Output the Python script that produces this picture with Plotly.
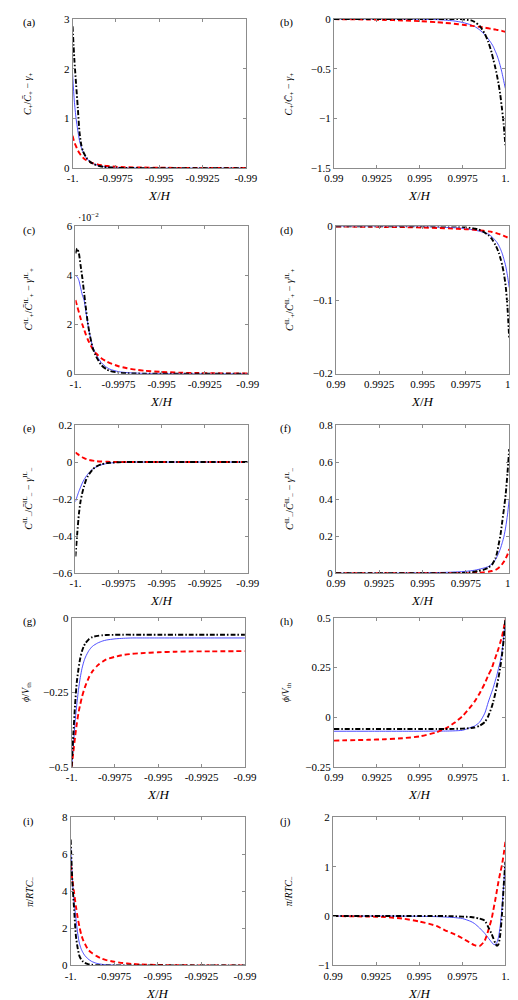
import plotly.graph_objects as go

# ---------------- data ----------------
X_LEFT = [-1.0, -0.9999, -0.9998, -0.9997, -0.9996, -0.9995, -0.9994, -0.9993, -0.9992, -0.999,
          -0.9988, -0.9985, -0.9982, -0.998, -0.9975, -0.997, -0.9965, -0.996, -0.995, -0.994,
          -0.993, -0.992, -0.99]
X_RIGHT = [0.99, 0.992, 0.993, 0.994, 0.995, 0.996, 0.9965, 0.997, 0.9975, 0.998,
           0.9982, 0.9985, 0.9988, 0.999, 0.9992, 0.9993, 0.9994, 0.9995, 0.9996, 0.9997,
           0.9998, 0.9999, 1.0]

LEFT_TICKS = [-1, -0.9975, -0.995, -0.9925, -0.99]
LEFT_TICKTEXT = ['-1.', '-0.9975', '-0.995', '-0.9925', '-0.99']
RIGHT_TICKS = [0.99, 0.9925, 0.995, 0.9975, 1.0]
RIGHT_TICKTEXT = ['0.99', '0.9925', '0.995', '0.9975', '1.']

# (a)
A_BLUE = [1.9, 1.35, 1.0, 0.76, 0.55, 0.42, 0.33, 0.26, 0.2, 0.13, 0.09, 0.05, 0.03, 0.022, 0.01, 0.005, 0.003, 0.002, 0.001, 0, 0, 0, 0]
A_RED = [0.65, 0.52, 0.44, 0.36, 0.3, 0.25, 0.21, 0.18, 0.16, 0.12, 0.095, 0.07, 0.05, 0.042, 0.028, 0.02, 0.015, 0.012, 0.008, 0.005, 0.004, 0.003, 0.002]
A_BLACK = [2.85, 2.2, 1.7, 1.22, 0.72, 0.47, 0.34, 0.27, 0.21, 0.13, 0.085, 0.045, 0.025, 0.017, 0.008, 0.004, 0.002, 0.001, 0, 0, 0, 0, 0]
# (b)
B_BLUE = [0, 0, 0, -0.001, -0.003, -0.007, -0.012, -0.02, -0.035, -0.06, -0.075, -0.11, -0.16, -0.2, -0.25, -0.28, -0.32, -0.36, -0.41, -0.47, -0.54, -0.62, -0.70]
B_RED = [-0.002, -0.006, -0.01, -0.015, -0.022, -0.033, -0.04, -0.048, -0.058, -0.068, -0.072, -0.08, -0.088, -0.094, -0.1, -0.103, -0.106, -0.11, -0.113, -0.117, -0.12, -0.125, -0.13]
B_BLACK = [0, 0, 0, 0, 0, 0, 0, 0, -0.003, -0.015, -0.03, -0.07, -0.15, -0.23, -0.34, -0.41, -0.48, -0.56, -0.65, -0.76, -0.9, -1.06, -1.27]
# (c)  (units of 1e-2)
C_BLUE = [4.0, 3.95, 3.8, 3.5, 3.2, 3.0, 2.55, 2.1, 1.7, 1.1, 0.78, 0.45, 0.26, 0.18, 0.08, 0.04, 0.02, 0.01, 0.003, 0, 0, 0, 0]
C_RED = [3.0, 2.75, 2.5, 2.25, 2.0, 1.8, 1.6, 1.42, 1.27, 1.0, 0.82, 0.63, 0.5, 0.43, 0.3, 0.22, 0.16, 0.12, 0.07, 0.04, 0.025, 0.015, 0.005]
C_BLACK = [4.9, 5.1, 4.9, 4.4, 3.9, 3.3, 2.7, 2.15, 1.7, 1.05, 0.7, 0.35, 0.18, 0.11, 0.04, 0.015, 0.005, 0, 0, 0, 0, 0, 0]
# (d)
D_BLUE = [0, 0, 0, 0, 0, -0.001, -0.0015, -0.002, -0.003, -0.005, -0.006, -0.008, -0.0105, -0.014, -0.019, -0.022, -0.026, -0.031, -0.037, -0.045, -0.054, -0.067, -0.083]
D_RED = [-0.0002, -0.0005, -0.0008, -0.001, -0.0015, -0.0022, -0.0027, -0.0032, -0.0038, -0.0046, -0.005, -0.0058, -0.0068, -0.0076, -0.0087, -0.0094, -0.0102, -0.011, -0.012, -0.013, -0.014, -0.015, -0.0158]
D_BLACK = [0, 0, 0, 0, 0, 0, 0, 0, -0.001, -0.003, -0.004, -0.007, -0.012, -0.017, -0.025, -0.03, -0.036, -0.044, -0.053, -0.065, -0.082, -0.11, -0.152]
# (e)
E_BLUE = [-0.214, -0.185, -0.158, -0.135, -0.113, -0.095, -0.08, -0.067, -0.056, -0.038, -0.026, -0.015, -0.008, -0.005, -0.002, -0.001, 0, 0, 0, 0, 0, 0, 0]
E_RED = [0.052, 0.045, 0.038, 0.032, 0.026, 0.021, 0.017, 0.014, 0.011, 0.008, 0.005, 0.003, 0.002, 0.001, 0, 0, 0, 0, 0, 0, 0, 0, 0]
E_BLACK = [-0.51, -0.39, -0.28, -0.21, -0.165, -0.13, -0.1, -0.08, -0.064, -0.04, -0.025, -0.012, -0.006, -0.004, -0.001, 0, 0, 0, 0, 0, 0, 0, 0]
# (f)
F_BLUE = [0, 0, 0, 0.001, 0.002, 0.004, 0.005, 0.007, 0.01, 0.016, 0.02, 0.027, 0.036, 0.05, 0.072, 0.09, 0.11, 0.135, 0.165, 0.2, 0.25, 0.315, 0.40]
F_RED = [0, 0, 0, 0, 0, 0, 0, 0, 0, 0.001, 0.002, 0.004, 0.008, 0.012, 0.018, 0.023, 0.03, 0.038, 0.05, 0.063, 0.08, 0.1, 0.13]
F_BLACK = [0, 0, 0, 0, 0, 0, 0, 0.001, 0.003, 0.008, 0.012, 0.018, 0.03, 0.045, 0.08, 0.11, 0.16, 0.21, 0.28, 0.35, 0.43, 0.54, 0.67]
# (g)
G_BLUE = [-0.5, -0.43, -0.35, -0.29, -0.24, -0.2, -0.17, -0.148, -0.132, -0.11, -0.096, -0.085, -0.078, -0.075, -0.071, -0.069, -0.068, -0.068, -0.068, -0.068, -0.068, -0.068, -0.068]
G_RED = [-0.5, -0.45, -0.40, -0.355, -0.318, -0.29, -0.265, -0.245, -0.228, -0.2, -0.18, -0.16, -0.147, -0.14, -0.131, -0.125, -0.121, -0.119, -0.116, -0.114, -0.113, -0.113, -0.112]
G_BLACK = [-0.5, -0.39, -0.29, -0.215, -0.17, -0.135, -0.112, -0.096, -0.085, -0.072, -0.065, -0.061, -0.059, -0.058, -0.0575, -0.057, -0.057, -0.057, -0.057, -0.057, -0.057, -0.057, -0.057]
# (h)
H_BLUE = [-0.071, -0.071, -0.071, -0.071, -0.071, -0.07, -0.07, -0.069, -0.066, -0.051, -0.045, -0.025, 0.02, 0.075, 0.125, 0.15, 0.18, 0.21, 0.245, 0.28, 0.33, 0.4, 0.49]
H_RED = [-0.118, -0.114, -0.111, -0.106, -0.097, -0.076, -0.058, -0.03, 0.005, 0.055, 0.078, 0.12, 0.17, 0.21, 0.245, 0.27, 0.295, 0.32, 0.345, 0.375, 0.405, 0.445, 0.49]
H_BLACK = [-0.06, -0.06, -0.06, -0.06, -0.06, -0.06, -0.06, -0.059, -0.058, -0.055, -0.052, -0.043, -0.025, 0.005, 0.05, 0.08, 0.115, 0.155, 0.2, 0.25, 0.31, 0.39, 0.5]
# (i)
I_BLUE = [6.4, 4.6, 3.4, 2.55, 1.75, 1.2, 0.9, 0.7, 0.55, 0.35, 0.22, 0.11, 0.06, 0.04, 0.015, 0.005, 0.002, 0, 0, 0, 0, 0, 0]
I_RED = [5.4, 4.6, 3.9, 3.2, 2.6, 2.1, 1.7, 1.4, 1.2, 0.85, 0.68, 0.5, 0.36, 0.3, 0.2, 0.13, 0.085, 0.055, 0.025, 0.012, 0.006, 0.003, 0.001]
I_BLACK = [6.8, 4.5, 3.0, 1.6, 0.95, 0.52, 0.33, 0.22, 0.15, 0.07, 0.035, 0.015, 0.008, 0.005, 0.002, 0, 0, 0, 0, 0, 0, 0, 0]
# (j)
J_BLUE = [0, 0, 0, -0.002, -0.005, -0.012, -0.02, -0.03, -0.05, -0.11, -0.15, -0.24, -0.35, -0.44, -0.53, -0.57, -0.58, -0.54, -0.43, -0.2, 0.15, 0.62, 1.1]
J_RED = [0, -0.01, -0.02, -0.05, -0.11, -0.2, -0.29, -0.36, -0.45, -0.55, -0.59, -0.61, -0.5, -0.3, -0.06, 0.12, 0.3, 0.5, 0.7, 0.87, 1.03, 1.25, 1.5]
J_BLACK = [0, 0, 0, 0, 0, 0, 0, -0.005, -0.012, -0.02, -0.03, -0.05, -0.09, -0.22, -0.36, -0.45, -0.54, -0.6, -0.57, -0.38, 0.02, 0.6, 1.1]

# ---------------- layout helpers ----------------
W, H = 518, 1000
FONT = "Liberation Serif, DejaVu Serif, serif"
FRAME = "#8c8c8c"

panels = [
    dict(tag='(a)', side='L', ys=(A_BLUE, A_RED, A_BLACK), yr=[0, 3], yt=[0, 1, 2, 3], ytt=['0', '1', '2', '3'],
         ylab='<i>C</i><sub>+</sub>/<i>C̄</i><sub>+</sub> − <i>γ</i><sub>+</sub>', box=(57, 238, 5, 156), labx=11),
    dict(tag='(b)', side='R', ys=(B_BLUE, B_RED, B_BLACK), yr=[-1.5, 0], yt=[-1.5, -1, -0.5, 0], ytt=['−1.5', '−1', '−0.5', '0'],
         ylab='<i>C</i><sub>+</sub>/<i>C̄</i><sub>+</sub> − <i>γ</i><sub>+</sub>', box=(330, 509, 5, 156), labx=284),
    dict(tag='(c)', side='L', ys=(C_BLUE, C_RED, C_BLACK), yr=[0, 6], yt=[0, 2, 4, 6], ytt=['0', '2', '4', '6'],
         ylab='<i>C</i><sup>IL</sup><sub>+</sub>/<i>C̄</i><sup>IL</sup><sub>+</sub> − <i>γ</i><sup>IL</sup><sub>+</sub>', box=(60, 240, 215, 364), labx=11),
    dict(tag='(d)', side='R', ys=(D_BLUE, D_RED, D_BLACK), yr=[-0.2, 0], yt=[-0.2, -0.1, 0], ytt=['−0.2', '−0.1', '0'],
         ylab='<i>C</i><sup>IL</sup><sub>+</sub>/<i>C̄</i><sup>IL</sup><sub>+</sub> − <i>γ</i><sup>IL</sup><sub>+</sub>', box=(332, 513, 215, 364), labx=284),
    dict(tag='(e)', side='L', ys=(E_BLUE, E_RED, E_BLACK), yr=[-0.6, 0.2], yt=[-0.6, -0.4, -0.2, 0, 0.2], ytt=['−0.6', '−0.4', '−0.2', '0', '0.2'],
         ylab='<i>C</i><sup>IL</sup><sub>−</sub>/<i>C̄</i><sup>IL</sup><sub>−</sub> − <i>γ</i><sup>IL</sup><sub>−</sub>', box=(60, 240, 416, 566), labx=11),
    dict(tag='(f)', side='R', ys=(F_BLUE, F_RED, F_BLACK), yr=[0, 0.8], yt=[0, 0.2, 0.4, 0.6, 0.8], ytt=['0', '0.2', '0.4', '0.6', '0.8'],
         ylab='<i>C</i><sup>IL</sup><sub>−</sub>/<i>C̄</i><sup>IL</sup><sub>−</sub> − <i>γ</i><sup>IL</sup><sub>−</sub>', box=(332, 513, 416, 566), labx=284),
    dict(tag='(g)', side='L', ys=(G_BLUE, G_RED, G_BLACK), yr=[-0.5, 0], yt=[-0.5, -0.25, 0], ytt=['−0.5', '−0.25', '0'],
         ylab='<i>ϕ</i>/<i>V</i><sub>th</sub>', box=(56, 237, 611, 762), labx=9),
    dict(tag='(h)', side='R', ys=(H_BLUE, H_RED, H_BLACK), yr=[-0.25, 0.5], yt=[-0.25, 0, 0.25, 0.5], ytt=['−0.25', '0', '0.25', '0.5'],
         ylab='<i>ϕ</i>/<i>V</i><sub>th</sub>', box=(330, 509, 611, 762), labx=280),
    dict(tag='(i)', side='L', ys=(I_BLUE, I_RED, I_BLACK), yr=[0, 8], yt=[0, 2, 4, 6, 8], ytt=['0', '2', '4', '6', '8'],
         ylab='<i>π</i>/<i>RTC</i><sub>−</sub>', box=(55, 237, 813, 963), labx=13),
    dict(tag='(j)', side='R', ys=(J_BLUE, J_RED, J_BLACK), yr=[-1, 2], yt=[-1, 0, 1, 2], ytt=['−1', '0', '1', '2'],
         ylab='<i>π</i>/<i>RTC</i><sub>−</sub>', box=(329, 509, 813, 963), labx=283),
]

styles = [
    dict(color='#3a3aff', width=0.9, dash='solid'),
    dict(color='#ff0000', width=1.9, dash='5px,3px'),
    dict(color='#000000', width=1.9, dash='5px,2px,1.5px,2px'),
]

fig = go.Figure()
annotations = []
layout = dict(width=W, height=H, margin=dict(l=0, r=0, t=0, b=0),
              paper_bgcolor='white', plot_bgcolor='white', showlegend=False,
              font=dict(family=FONT, size=10, color='black'))

for k, p in enumerate(panels):
    n = '' if k == 0 else str(k + 1)
    x0, x1, y0, y1 = p['box']
    xs = X_LEFT if p['side'] == 'L' else X_RIGHT
    for ys, st in zip(p['ys'], styles):
        fig.add_trace(go.Scatter(x=xs, y=ys, mode='lines', xaxis='x' + n, yaxis='y' + n,
                                 line=dict(color=st['color'], width=st['width'], dash=st['dash'],
                                           shape='spline', smoothing=0.6),
                                 hoverinfo='skip'))
    common = dict(showgrid=False, zeroline=False, showline=True, linecolor=FRAME, linewidth=1,
                  mirror='allticks', ticks='inside', ticklen=3, tickcolor=FRAME, tickwidth=0.8,
                  ticklabeloverflow='allow',
                  tickfont=dict(family=FONT, size=11, color='black'))
    layout['xaxis' + n] = dict(common, domain=[x0 / W, x1 / W], anchor='y' + n,
                                range=[-1, -0.99] if p['side'] == 'L' else [0.99, 1.0],
                                tickmode='array',
                                tickvals=LEFT_TICKS if p['side'] == 'L' else RIGHT_TICKS,
                                ticktext=LEFT_TICKTEXT if p['side'] == 'L' else RIGHT_TICKTEXT)
    layout['yaxis' + n] = dict(common, domain=[1 - y1 / H, 1 - y0 / H], anchor='x' + n,
                                range=p['yr'], tickmode='array', tickvals=p['yt'], ticktext=p['ytt'])
    # x title
    annotations.append(dict(text='<i>X</i>/<i>H</i>', x=(x0 + x1) / 2 / W, y=1 - (y1 + 28) / H,
                            xref='paper', yref='paper', showarrow=False, xanchor='center', yanchor='middle',
                            font=dict(family=FONT, size=13, color='black')))
    # y title
    annotations.append(dict(text=p['ylab'], x=p['labx'] / W, y=1 - (y0 + y1) / 2 / H,
                            xref='paper', yref='paper', showarrow=False, textangle=-90,
                            xanchor='center', yanchor='middle',
                            font=dict(family=FONT, size=10, color='black')))
    # panel tag
    tx = 3 if p['side'] == 'L' else 272
    annotations.append(dict(text=p['tag'], x=tx / W, y=1 - (y0 + 4) / H, xref='paper', yref='paper',
                            showarrow=False, xanchor='left', yanchor='middle',
                            font=dict(family=FONT, size=11, color='black')))

# exponent marker for panel (c)
annotations.append(dict(text='·10<sup>−2</sup>', x=61 / W, y=1 - 205 / H, xref='paper', yref='paper',
                        showarrow=False, xanchor='left', yanchor='middle',
                        font=dict(family=FONT, size=10, color='black')))

layout['annotations'] = annotations
fig.update_layout(**layout)
fig.write_html("out.html")
